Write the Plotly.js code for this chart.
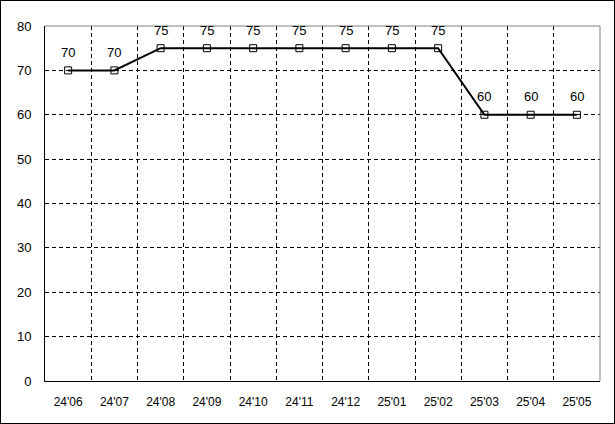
<!DOCTYPE html>
<html>
<head>
<meta charset="utf-8">
<script src="https://cdn.plot.ly/plotly-3.0.1.min.js"></script>
<style>
html,body{margin:0;padding:0;background:#fff;}
#chart{width:613px;height:422px;border:1px solid #000;}
</style>
</head>
<body>
<div id="chart"></div>
<script>
var categories = ["24'06","24'07","24'08","24'09","24'10","24'11","24'12","25'01","25'02","25'03","25'04","25'05"];
var values = [70,70,75,75,75,75,75,75,75,60,60,60];
var yTicks = [0,10,20,30,40,50,60,70,80];

var trace = {
  x: categories,
  y: values,
  type: 'scatter',
  mode: 'lines+markers',
  line: {color: '#000', width: 2},
  marker: {symbol: 'square-open', size: 7, color: '#000', line: {width: 1}},
  cliponaxis: false,
  hoverinfo: 'none'
};

var annotations = categories.map(function (c, i) {
  return {
    x: c, y: values[i], xref: 'x', yref: 'y',
    text: String(values[i]), showarrow: false,
    yshift: 18,
    font: {family: 'Liberation Sans, Arial, sans-serif', size: 13, color: '#000'}
  };
});

var layout = {
  width: 613, height: 422,
  margin: {l: 44, r: 14, t: 25, b: 42},
  paper_bgcolor: '#fff', plot_bgcolor: '#fff',
  showlegend: false,
  font: {family: 'Liberation Sans, Arial, sans-serif', size: 12, color: '#000'},
  xaxis: {
    type: 'category',
    range: [-0.5, categories.length - 0.5],
    tickson: 'boundaries',
    showgrid: true, gridcolor: '#000', griddash: '4px,3px', gridwidth: 1,
    showline: true, linecolor: '#000', linewidth: 1,
    ticks: '', ticklabelstandoff: 10,
    zeroline: false, fixedrange: true,
    tickfont: {size: 12}
  },
  yaxis: {
    range: [0, 80],
    tickvals: yTicks,
    showgrid: true, gridcolor: '#000', griddash: '4px,3px', gridwidth: 1,
    showline: true, linecolor: '#000', linewidth: 1,
    ticks: 'outside', ticklen: 10, tickcolor: 'rgba(0,0,0,0)',
    zeroline: false, fixedrange: true,
    tickfont: {size: 13}
  },
  annotations: annotations,
  shapes: [
    {type: 'line', xref: 'paper', yref: 'paper', x0: 0, x1: 1, y0: 1, y1: 1, line: {color: '#808080', width: 1}},
    {type: 'line', xref: 'paper', yref: 'paper', x0: 1, x1: 1, y0: 0, y1: 1, line: {color: '#808080', width: 1}}
  ]
};

Plotly.newPlot('chart', [trace], layout, {displayModeBar: false, staticPlot: true});
</script>
</body>
</html>
